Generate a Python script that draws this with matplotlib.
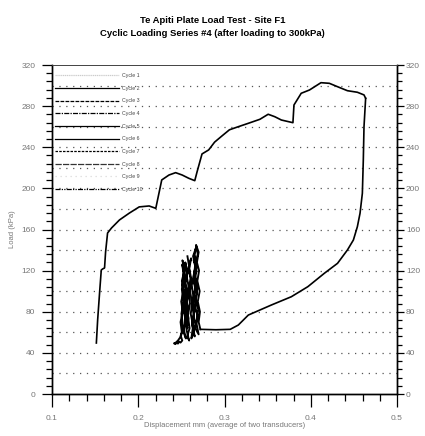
import matplotlib
matplotlib.use("Agg")
import matplotlib.pyplot as plt
from matplotlib.lines import Line2D
from matplotlib.ticker import MultipleLocator

plt.rcParams['font.family'] = ['Liberation Sans', 'DejaVu Sans']

title_lines = ["Te Apiti Plate Load Test - Site F1",
               "Cyclic Loading Series #4 (after loading to 300kPa)"]
x_label = "Displacement mm (average of two transducers)"
y_label = "Load (kPa)"
x_ticks = [0.1, 0.2, 0.3, 0.4, 0.5]
y_ticks = [0, 40, 80, 120, 160, 200, 240, 280, 320]
legend_labels = ["Cycle 1", "Cycle 2", "Cycle 3", "Cycle 4", "Cycle 5",
                 "Cycle 6", "Cycle 7", "Cycle 8", "Cycle 9", "Cycle 10"]

# loading path (displacement mm, load kPa)
load_x = [0.1514, 0.1529, 0.1552, 0.1571, 0.1586, 0.1609, 0.1621, 0.1644, 0.1690,
          0.1782, 0.1897, 0.2011, 0.2126, 0.2203, 0.2272, 0.2356, 0.2433, 0.2509,
          0.2586, 0.2655, 0.2682, 0.2739, 0.2816, 0.2885, 0.2970, 0.3057, 0.3160,
          0.3276, 0.3410, 0.3506, 0.3583, 0.3659, 0.3793, 0.3805, 0.3889, 0.3985,
          0.4118, 0.4215, 0.4310, 0.4425, 0.4540, 0.4617, 0.4636]
load_y = [49.6, 72.0, 99.2, 120.6, 121.6, 122.6, 138.1, 156.6, 161.5,
          169.3, 176.0, 182.0, 182.9, 180.6, 208.2, 213.0, 215.3, 213.0,
          209.8, 207.5, 216.2, 233.5, 237.4, 245.0, 251.0, 257.0, 260.0,
          263.3, 267.2, 272.1, 269.7, 266.5, 263.9, 281.1, 292.5, 295.7,
          302.8, 302.2, 298.9, 295.0, 293.5, 290.9, 287.6]

# unloading path
unload_x = [0.4636, 0.4617, 0.4609, 0.4598, 0.4571, 0.4540, 0.4494, 0.4425, 0.4310,
            0.4157, 0.3966, 0.3774, 0.3544, 0.3276, 0.3160, 0.3066, 0.2900, 0.2720]
unload_y = [287.6, 260.0, 227.6, 195.2, 175.8, 162.7, 149.8, 140.1, 127.1,
            117.4, 104.4, 94.6, 86.6, 76.8, 67.1, 62.9, 62.5, 62.9]

# cyclic loading between ~50 and ~145 kPa (right column then left column)
cyc_x = [0.2720, 0.2700, 0.2715, 0.2690, 0.2712, 0.2685, 0.2705, 0.2680, 0.2700,
         0.2670, 0.2690, 0.2665, 0.2650, 0.2672, 0.2645, 0.2668, 0.2640, 0.2662,
         0.2635, 0.2655, 0.2630, 0.2648, 0.2625, 0.2640, 0.2620, 0.2645, 0.2660,
         0.2635, 0.2668, 0.2642, 0.2675, 0.2650, 0.2680, 0.2655, 0.2690, 0.2660,
         0.2700, 0.2672, 0.2695, 0.2665, 0.2688, 0.2655, 0.2680, 0.2645, 0.2670,
         0.2638, 0.2660, 0.2630, 0.2652, 0.2622, 0.2645, 0.2615, 0.2635, 0.2608,
         0.2625, 0.2600, 0.2618, 0.2592, 0.2612, 0.2585, 0.2605, 0.2580, 0.2600,
         0.2575, 0.2595, 0.2568, 0.2590, 0.2560, 0.2582, 0.2555, 0.2578, 0.2548,
         0.2570, 0.2545, 0.2565, 0.2540, 0.2560, 0.2535, 0.2555, 0.2530, 0.2552,
         0.2525, 0.2548, 0.2520, 0.2540, 0.2515, 0.2535, 0.2510, 0.2528, 0.2505,
         0.2522, 0.2500, 0.2518, 0.2495, 0.2510, 0.2490, 0.2475, 0.2460, 0.2445,
         0.2430, 0.2414, 0.2435, 0.2460, 0.2485, 0.2505, 0.2490, 0.2515, 0.2498,
         0.2525, 0.2505, 0.2535, 0.2512, 0.2545, 0.2520, 0.2555, 0.2530, 0.2562,
         0.2540, 0.2570, 0.2548, 0.2578, 0.2555, 0.2585, 0.2562, 0.2590, 0.2570]
cyc_y = [62.9, 70.0, 80.0, 90.0, 100.0, 110.0, 120.0, 128.0, 138.0,
         145.0, 136.0, 128.0, 116.0, 108.0, 96.0, 88.0, 76.0, 68.0,
         60.0, 56.0, 66.0, 74.0, 86.0, 94.0, 106.0, 114.0, 126.0,
         134.0, 142.0, 130.0, 120.0, 108.0, 98.0, 86.0, 76.0, 64.0,
         58.0, 70.0, 82.0, 92.0, 104.0, 116.0, 124.0, 136.0, 126.0,
         114.0, 102.0, 90.0, 80.0, 68.0, 60.0, 54.0, 66.0, 78.0,
         88.0, 100.0, 110.0, 122.0, 132.0, 124.0, 112.0, 100.0, 88.0,
         76.0, 64.0, 56.0, 52.0, 62.0, 74.0, 86.0, 96.0, 108.0,
         118.0, 128.0, 120.0, 108.0, 96.0, 84.0, 72.0, 62.0, 54.0,
         60.0, 72.0, 84.0, 96.0, 106.0, 116.0, 126.0, 114.0, 102.0,
         90.0, 78.0, 66.0, 56.0, 52.0, 50.0, 51.0, 49.0, 50.0,
         48.5, 49.3, 50.0, 52.0, 55.0, 60.0, 70.0, 80.0, 90.0,
         100.0, 110.0, 120.0, 130.0, 122.0, 112.0, 102.0, 92.0, 82.0,
         72.0, 64.0, 74.0, 84.0, 94.0, 104.0, 114.0, 124.0, 134.0]

fig = plt.figure(figsize=(4.25, 4.36), dpi=100)
ax = fig.add_axes([0.1224, 0.0963, 0.8118, 0.7546])

ax.plot(load_x, load_y, color='black', lw=1.2, solid_joinstyle='round')
ax.plot(unload_x, unload_y, color='black', lw=1.2, solid_joinstyle='round')
ax.plot(cyc_x, cyc_y, color='black', lw=1.35, solid_joinstyle='round')

ax.set_xlim(0.1, 0.5)
ax.set_ylim(0, 320)
ax.set_xticks(x_ticks)
ax.set_yticks(y_ticks)
ax.xaxis.set_minor_locator(MultipleLocator(0.02))
ax.yaxis.set_minor_locator(MultipleLocator(8))
ax.set_xticklabels([f"{v:.1f}" for v in x_ticks])
ax.set_yticklabels([str(v) for v in y_ticks])

for gy in range(20, 320, 20):
    ax.axhline(gy, color='#555555', lw=0.9, linestyle=(0, (1, 4.5)), zorder=0)

ax.tick_params(axis='x', which='major', direction='out', length=9, width=0.9,
               labelsize=6, labelcolor='#777777', pad=6)
ax.tick_params(axis='x', which='minor', direction='out', length=5, width=0.9)
ax.tick_params(axis='y', which='major', direction='out', length=7, width=0.9,
               left=True, right=False, labelleft=True, labelright=False,
               labelsize=6, labelcolor='#777777', pad=5)
ax.tick_params(axis='y', which='minor', direction='out', length=4, width=0.9,
               left=True, right=False)

# right-hand load scale
axr = ax.twinx()
axr.set_ylim(0, 320)
axr.set_yticks(y_ticks)
axr.set_yticklabels([str(v) for v in y_ticks])
axr.yaxis.set_minor_locator(MultipleLocator(8))
axr.tick_params(axis='y', which='major', direction='out', length=5, width=0.9,
                labelsize=6, labelcolor='#777777', pad=1.5)
axr.tick_params(axis='y', which='minor', direction='out', length=3.5, width=0.9)

for a in (ax, axr):
    for s in a.spines.values():
        s.set_linewidth(1.0)
    a.spines['top'].set_linewidth(0.6)
    a.spines['top'].set_color('#444444')

ax.set_xlabel(x_label, fontsize=5.5, color='#777777', labelpad=0)
ax.set_ylabel(y_label, fontsize=5.5, color='#777777', labelpad=4)

styles = [(0, (1, 0.5)), '-', (0, (3, 1)), (0, (4, 1, 1, 1)), '-', '-',
          (0, (2, 1)), (0, (5, 1)), (0, (1, 3)), (0, (4, 1, 1, 1, 1, 1))]
alphas = [0.2, 1, 1, 1, 1, 1, 1, 0.8, 0.15, 1]
handles = [Line2D([], [], color='black', lw=0.9, linestyle=st, alpha=a)
           for st, a in zip(styles, alphas)]
leg = ax.legend(handles, legend_labels, loc='upper left', bbox_to_anchor=(0.0, 0.985),
                fontsize=3.8, frameon=False, handlelength=12, handletextpad=0.6,
                labelspacing=1.45, borderaxespad=0.2)
for t in leg.get_texts():
    t.set_color('#444444')

fig.text(0.5, 0.953, title_lines[0], ha='center', va='center', fontsize=6.8,
         fontweight='bold')
fig.text(0.5, 0.924, title_lines[1], ha='center', va='center', fontsize=6.8,
         fontweight='bold')

fig.savefig("out.png", dpi=100)
